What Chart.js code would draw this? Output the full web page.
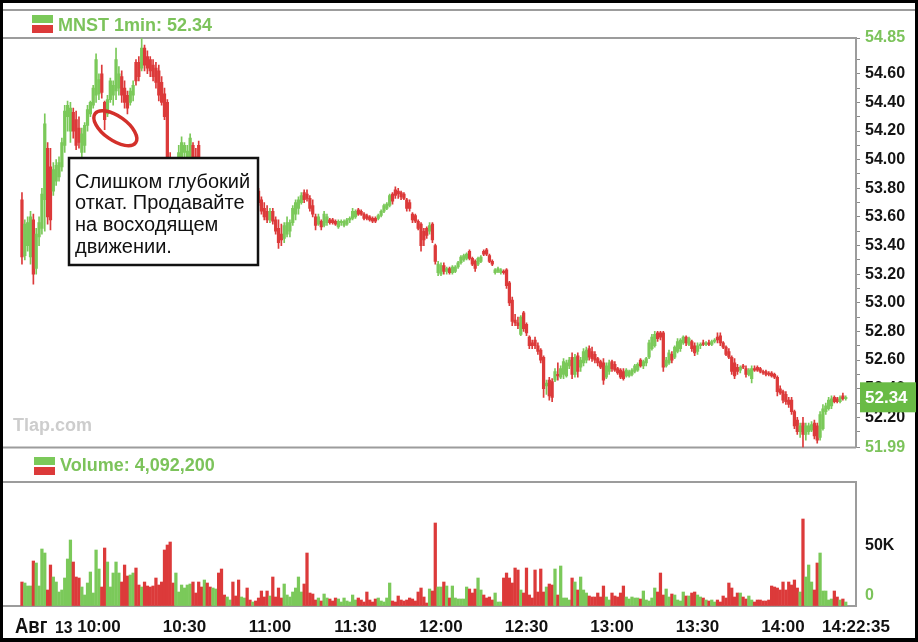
<!DOCTYPE html>
<html><head><meta charset="utf-8">
<script src="https://cdn.jsdelivr.net/npm/chart.js@4.4.1/dist/chart.umd.min.js"></script>
<style>
html,body{margin:0;padding:0;background:#000;width:918px;height:642px;overflow:hidden;}
#frame{position:absolute;left:3px;top:3px;width:912px;height:635px;background:#fff;}
canvas{position:absolute;left:0;}
#c1{top:0;} #c2{top:455px;}
</style></head><body>
<div id="frame"></div>
<canvas id="c1" width="918" height="462"></canvas>
<canvas id="c2" width="918" height="187"></canvas>
<script>
// ---------- DATA (1-minute bars, MNST, Aug 13, from 09:33) ----------
const firstBarTime = '09:33';
const symbol = 'MNST';
const interval = '1min';
const volumeTitle = 'Volume: 4,092,200';
const opens = [
53.72,53.33,53.40,53.32,53.58,53.24,53.46,53.52,53.72,54.08,
53.95,53.78,53.85,53.88,53.95,54.10,54.30,54.20,54.33,54.28,
54.22,54.05,54.10,54.24,54.32,54.38,54.45,54.46,54.60,54.40,
54.32,54.42,54.45,54.48,54.50,54.58,54.50,54.45,54.40,54.45,
54.68,54.68,54.64,54.78,54.72,54.70,54.66,54.64,54.62,54.54,
54.46,54.40,54.00,53.90,53.80,53.92,54.00,54.05,53.98,54.02,
54.10,54.02,54.10,53.96,53.88,53.92,53.86,53.80,53.84,53.88,
53.85,53.80,53.76,53.80,53.84,53.82,53.78,53.74,53.78,53.82,
53.80,53.76,53.78,53.78,53.72,53.66,53.64,53.58,53.64,53.58,
53.52,53.48,53.45,53.48,53.50,53.56,53.62,53.66,53.70,53.77,
53.76,53.73,53.68,53.60,53.55,53.57,53.54,53.56,53.58,53.58,
53.57,53.53,53.56,53.54,53.55,53.58,53.59,53.60,53.65,53.64,
53.62,53.61,53.60,53.59,53.59,53.59,53.61,53.64,53.66,53.68,
53.76,53.79,53.78,53.77,53.76,53.72,53.70,53.62,53.61,53.57,
53.55,53.50,53.52,53.50,53.55,53.40,53.21,53.20,53.26,53.22,
53.24,53.21,53.22,53.25,53.28,53.30,53.31,53.36,53.31,53.29,
53.27,53.29,53.36,53.37,53.33,53.29,53.21,53.22,53.21,53.22,
53.23,53.14,53.02,52.88,52.86,52.78,52.93,52.85,52.76,52.72,
52.74,52.70,52.67,52.62,52.42,52.46,52.45,52.46,52.50,52.48,
52.50,52.49,52.56,52.62,52.50,52.63,52.55,52.58,52.60,52.68,
52.66,52.64,52.61,52.59,52.58,52.48,52.52,52.59,52.57,52.54,
52.53,52.52,52.49,52.49,52.50,52.52,52.53,52.60,52.56,52.58,
52.62,52.68,52.70,52.79,52.79,52.79,52.56,52.58,52.64,52.62,
52.66,52.68,52.72,52.76,52.71,52.73,52.70,52.66,52.70,52.72,
52.71,52.72,52.71,52.73,52.76,52.77,52.72,52.69,52.66,52.62,
52.58,52.55,52.53,52.56,52.54,52.50,52.47,52.54,52.55,52.54,
52.52,52.52,52.51,52.51,52.50,52.48,52.40,52.38,52.36,52.32,
52.32,52.24,52.18,52.10,52.16,52.08,52.10,52.11,52.16,52.14,
52.06,52.12,52.24,52.26,52.28,52.34,52.33,52.31,52.35,52.33];
const highs = [
53.77,53.58,53.60,53.64,53.62,53.52,53.60,53.80,54.32,54.12,
54.08,53.98,54.00,54.02,54.15,54.38,54.41,54.40,54.36,54.34,
54.30,54.22,54.26,54.38,54.41,54.52,54.74,54.60,54.66,54.41,
54.45,54.57,54.55,54.78,54.65,54.62,54.55,54.48,54.50,54.55,
54.70,54.72,54.85,54.80,54.76,54.72,54.70,54.68,54.66,54.58,
54.50,54.42,54.05,53.95,53.98,54.10,54.16,54.12,54.10,54.18,
54.12,54.08,54.13,54.00,53.95,53.96,53.90,53.86,53.90,53.92,
53.88,53.84,53.82,53.86,53.88,53.85,53.82,53.80,53.84,53.86,
53.83,53.80,53.82,53.80,53.74,53.70,53.68,53.66,53.66,53.60,
53.58,53.55,53.56,53.60,53.58,53.68,53.72,53.74,53.77,53.79,
53.79,53.75,53.72,53.62,53.62,53.58,53.64,53.62,53.59,53.59,
53.58,53.58,53.58,53.58,53.59,53.60,53.66,53.65,53.66,53.65,
53.63,53.62,53.61,53.60,53.60,53.62,53.65,53.69,53.70,53.76,
53.77,53.81,53.80,53.78,53.77,53.73,53.72,53.63,53.62,53.58,
53.56,53.52,53.53,53.56,53.56,53.41,53.29,53.28,53.28,53.25,
53.25,53.26,53.26,53.29,53.33,53.34,53.35,53.37,53.32,53.30,
53.32,53.33,53.37,53.38,53.34,53.30,53.24,53.25,53.24,53.23,
53.24,53.15,53.04,52.92,52.90,52.91,52.94,52.86,52.77,52.74,
52.76,52.72,52.68,52.63,52.46,52.48,52.47,52.54,52.58,52.56,
52.61,52.60,52.62,52.65,52.64,52.65,52.62,52.68,52.69,52.70,
52.69,52.66,52.62,52.60,52.61,52.58,52.60,52.60,52.59,52.55,
52.54,52.54,52.54,52.53,52.54,52.57,52.58,52.61,52.60,52.62,
52.74,52.78,52.80,52.80,52.80,52.80,52.62,52.67,52.66,52.70,
52.75,52.75,52.77,52.77,52.76,52.74,52.72,52.72,52.72,52.74,
52.73,52.74,52.74,52.75,52.79,52.79,52.73,52.70,52.68,52.63,
52.61,52.57,52.56,52.57,52.56,52.54,52.56,52.56,52.56,52.55,
52.53,52.53,52.52,52.52,52.51,52.49,52.42,52.39,52.38,52.34,
52.34,52.25,52.20,52.16,52.20,52.16,52.16,52.17,52.18,52.16,
52.24,52.29,52.30,52.34,52.35,52.35,52.34,52.35,52.37,52.35];
const lows = [
53.27,53.30,53.36,53.27,53.13,53.20,53.40,53.48,53.50,53.55,
53.51,53.75,53.82,53.85,53.92,54.05,54.20,54.12,54.15,54.07,
54.08,54.00,54.05,54.20,54.30,54.36,54.40,54.42,54.43,54.21,
54.30,54.40,54.38,54.42,54.45,54.40,54.36,54.32,54.38,54.41,
54.52,54.55,54.62,54.62,54.60,54.58,54.55,54.50,54.41,54.38,
54.28,53.95,53.80,53.75,53.78,53.90,53.95,53.96,53.95,53.98,
53.94,53.90,53.92,53.86,53.84,53.85,53.78,53.76,53.82,53.83,
53.78,53.74,53.74,53.78,53.80,53.76,53.72,53.72,53.76,53.78,
53.74,53.72,53.74,53.68,53.62,53.58,53.56,53.56,53.55,53.48,
53.38,53.40,53.42,53.46,53.46,53.54,53.58,53.62,53.69,53.70,
53.71,53.64,53.60,53.51,53.54,53.51,53.53,53.54,53.55,53.55,
53.54,53.52,53.54,53.53,53.54,53.56,53.58,53.59,53.61,53.61,
53.58,53.58,53.57,53.56,53.56,53.58,53.60,53.63,53.65,53.67,
53.69,53.73,53.73,53.72,53.72,53.64,53.64,53.56,53.56,53.51,
53.36,53.40,53.45,53.48,53.42,53.27,53.19,53.19,53.20,53.20,
53.20,53.20,53.21,53.24,53.27,53.29,53.30,53.30,53.26,53.22,
53.26,53.28,53.33,53.33,53.28,53.26,53.20,53.21,53.20,53.20,
53.10,52.98,52.84,52.84,52.82,52.77,52.80,52.77,52.68,52.68,
52.68,52.64,52.58,52.34,52.36,52.32,52.31,52.45,52.46,52.47,
52.47,52.48,52.54,52.47,52.48,52.48,52.52,52.56,52.58,52.60,
52.59,52.58,52.56,52.54,52.43,52.47,52.50,52.52,52.52,52.50,
52.47,52.46,52.48,52.48,52.49,52.51,52.52,52.55,52.54,52.56,
52.61,52.67,52.69,52.73,52.74,52.52,52.55,52.57,52.58,52.61,
52.65,52.66,52.71,52.70,52.70,52.66,52.63,52.64,52.68,52.70,
52.70,52.70,52.70,52.72,52.72,52.70,52.68,52.63,52.61,52.50,
52.47,52.50,52.51,52.54,52.48,52.49,52.44,52.52,52.52,52.51,
52.50,52.49,52.49,52.48,52.47,52.35,52.36,52.30,52.29,52.27,
52.22,52.12,52.08,52.06,51.99,52.04,52.08,52.10,52.05,52.02,
52.04,52.11,52.22,52.25,52.26,52.30,52.30,52.30,52.32,52.32];
const closes = [
53.32,53.55,53.56,53.60,53.20,53.48,53.56,53.76,54.25,53.60,
53.58,53.93,53.96,53.98,54.12,54.34,54.38,54.36,54.20,54.10,
54.12,54.18,54.24,54.35,54.40,54.50,54.70,54.56,54.47,54.28,
54.42,54.55,54.52,54.70,54.60,54.45,54.40,54.36,54.48,54.52,
54.55,54.58,54.78,54.66,54.64,54.62,54.58,54.54,54.45,54.40,
54.30,54.00,53.86,53.80,53.94,54.05,54.12,54.10,54.06,54.15,
53.98,53.94,53.96,53.88,53.92,53.86,53.80,53.84,53.88,53.85,
53.80,53.76,53.80,53.84,53.82,53.78,53.74,53.78,53.82,53.80,
53.76,53.78,53.76,53.70,53.64,53.60,53.58,53.64,53.57,53.50,
53.42,53.44,53.54,53.56,53.56,53.66,53.70,53.72,53.75,53.72,
53.73,53.66,53.62,53.54,53.60,53.53,53.62,53.60,53.56,53.56,
53.55,53.57,53.57,53.57,53.58,53.59,53.64,53.64,53.62,53.62,
53.59,53.59,53.58,53.57,53.57,53.61,53.64,53.68,53.69,53.75,
53.71,53.75,53.76,53.74,53.73,53.66,53.66,53.58,53.57,53.52,
53.40,53.44,53.47,53.54,53.44,53.29,53.27,53.26,53.22,53.24,
53.21,53.25,53.25,53.28,53.32,53.33,53.34,53.31,53.27,53.24,
53.31,53.32,53.34,53.34,53.29,53.27,53.23,53.24,53.23,53.21,
53.12,53.00,52.87,52.86,52.84,52.90,52.82,52.79,52.70,52.70,
52.70,52.66,52.60,52.40,52.44,52.35,52.34,52.52,52.49,52.54,
52.59,52.58,52.60,52.50,52.62,52.52,52.60,52.66,52.67,52.62,
52.61,52.60,52.58,52.55,52.46,52.56,52.58,52.54,52.53,52.51,
52.48,52.47,52.53,52.52,52.53,52.56,52.57,52.56,52.59,52.61,
52.72,52.76,52.78,52.75,52.76,52.55,52.60,52.65,52.60,52.69,
52.73,52.74,52.76,52.72,52.75,52.68,52.65,52.70,52.71,52.71,
52.72,52.71,52.73,52.74,52.74,52.72,52.69,52.64,52.62,52.52,
52.49,52.52,52.55,52.55,52.50,52.53,52.54,52.53,52.53,52.52,
52.51,52.50,52.50,52.49,52.48,52.38,52.37,52.32,52.31,52.29,
52.24,52.14,52.10,52.14,52.08,52.14,52.14,52.15,52.07,52.04,
52.22,52.26,52.28,52.32,52.33,52.31,52.31,52.34,52.33,52.34];
// volume per minute, in thousands of shares
const volumeThousands = [
24,23,20,20,45,43,20,57,53,16,
41,29,24,14,16,28,47,66,44,29,
28,19,11,23,34,13,56,37,19,58,
44,19,33,44,33,24,41,30,31,33,
38,21,19,24,20,19,20,28,21,24,
56,61,64,23,33,14,21,18,21,22,
24,13,24,19,26,23,19,18,17,33,
37,11,9,6,24,10,26,9,8,18,
6,4,5,8,15,9,15,10,29,9,
18,8,22,11,9,14,18,29,14,22,
53,13,12,6,8,5,12,8,7,5,
8,7,4,8,5,4,11,6,8,6,
4,14,6,4,7,8,5,4,8,23,
5,4,10,6,5,6,8,7,5,14,
18,9,3,17,15,83,19,19,24,20,
8,20,8,7,7,7,19,17,13,17,
28,16,11,8,9,6,13,4,4,28,
33,28,23,38,36,16,13,38,11,8,
36,14,37,14,19,22,21,37,11,40,
8,8,6,28,24,16,29,16,13,10,
9,9,13,9,20,9,6,13,10,9,
13,20,9,7,9,8,8,7,15,6,
5,8,18,14,33,11,17,9,12,11,
6,5,14,10,10,13,14,11,9,8,
6,5,6,4,6,4,10,8,23,18,
9,13,13,9,7,10,6,4,6,6,
5,5,6,20,19,18,16,24,16,24,
21,26,18,14,87,29,41,24,16,43,
53,15,15,6,7,15,9,6,7,4];
const priceTickLabels = [51.99,52.20,52.40,52.60,52.80,53.00,53.20,53.40,53.60,53.80,54.00,54.20,54.40,54.60,54.85];
const priceMinorTicks = [52.10,52.30,52.50,52.70,52.90,53.10,53.30,53.50,53.70,53.90,54.10,54.30,54.50,54.70];
const rangeLabels = [51.99, 54.85];      // day low / high shown in green
const timeTickLabels = ['10:00','10:30','11:00','11:30','12:00','12:30','13:00','13:30','14:00'];
const endTimeLabel = '14:22:35';
const dateLabel = ['Авг', '13'];
const volumeTickValues = [0, 50];
const volumeTickLabels = ['0', '50K'];
const noteLines = ['Слишком глубокий', 'откат. Продавайте', 'на восходящем', 'движении.'];
const circledBarTime = '10:04';
const circledPrice = 54.22;
const watermark = 'Tlap.com';

// ---------- STYLE ----------
const GREEN = '#7bc95a', RED = '#dc3a3a', TITLE_GREEN = '#7cc35b', BOX_GREEN = '#69bb45';
const LINE_GRAY = '#9c9c9c';
const SANS = '"Liberation Sans", Arial, Helvetica, sans-serif';
const X_MIN = 568.1, X_MAX = 865.6;

const toMin = s => { const p = s.split(':').map(Number); return p[0]*60 + p[1] + (p[2]||0)/60; };
const startMin = toMin(firstBarTime);
const minutes = opens.map((_, i) => startMin + i);
const barColors = closes.map((c, i) => c >= opens[i] ? GREEN : RED);
const lastClose = closes[closes.length - 1];

function hline(ctx, x1, x2, y) { ctx.beginPath(); ctx.moveTo(x1, y); ctx.lineTo(x2, y); ctx.stroke(); }
function legendIcon(ctx, x, y) {
  ctx.fillStyle = GREEN; ctx.fillRect(x, y, 21, 8);
  ctx.fillStyle = RED; ctx.fillRect(x, y + 10, 21, 8);
}

const pricePanel = {
  id: 'pricePanel',
  beforeDraw(chart) {
    const {ctx, chartArea: a} = chart;
    ctx.save();
    ctx.strokeStyle = LINE_GRAY; ctx.lineWidth = 2;
    hline(ctx, 3, 915, 10);
    hline(ctx, 3, a.right, a.top);
    hline(ctx, 3, a.right, a.bottom);
    legendIcon(ctx, 32, 15);
    ctx.textBaseline = 'middle'; ctx.textAlign = 'left';
    ctx.fillStyle = TITLE_GREEN; ctx.font = 'bold 18px ' + SANS;
    ctx.fillText(symbol + ' ' + interval + ': ' + lastClose.toFixed(2), 58, 26);
    ctx.fillStyle = '#cdcdcd'; ctx.font = 'bold 18px ' + SANS;
    ctx.fillText(watermark, 13, 426);
    ctx.restore();
  },
  afterDatasetsDraw(chart) {
    const {ctx} = chart;
    const xs = chart.scales.x, ys = chart.scales.y;
    ctx.save();
    // note box
    ctx.fillStyle = '#fff'; ctx.fillRect(69, 158, 189, 107);
    ctx.strokeStyle = '#111'; ctx.lineWidth = 2.5; ctx.strokeRect(69, 158, 189, 107);
    ctx.fillStyle = '#111'; ctx.font = '20px ' + SANS; ctx.textBaseline = 'middle'; ctx.textAlign = 'left';
    noteLines.forEach((t, k) => ctx.fillText(t, 75, 182 + k * 21.7));
    // red ellipse around the pull-back bar
    const cx = xs.getPixelForValue(toMin(circledBarTime)) + 5, cy = ys.getPixelForValue(circledPrice);
    ctx.strokeStyle = '#d3302b'; ctx.lineWidth = 3.5;
    ctx.beginPath(); ctx.ellipse(cx, cy, 25, 12, 0.62, 0, Math.PI * 2); ctx.stroke();
    ctx.restore();
  },
  afterDraw(chart) {
    const {ctx} = chart;
    const y = chart.scales.y.getPixelForValue(lastClose);
    ctx.save();
    ctx.fillStyle = BOX_GREEN; ctx.fillRect(860, y - 15, 56, 30);
    ctx.fillStyle = '#fff'; ctx.font = 'bold 17px ' + SANS; ctx.textBaseline = 'middle'; ctx.textAlign = 'left';
    ctx.fillText(lastClose.toFixed(2), 865, y + 1);
    ctx.restore();
  }
};

const volumePanel = {
  id: 'volumePanel',
  beforeDraw(chart) {
    const {ctx, chartArea: a} = chart;
    ctx.save();
    ctx.strokeStyle = LINE_GRAY; ctx.lineWidth = 2;
    hline(ctx, 3, a.right, a.top);
    hline(ctx, 3, a.right, a.bottom);
    legendIcon(ctx, 34, 2);
    ctx.textBaseline = 'middle'; ctx.textAlign = 'left';
    ctx.fillStyle = TITLE_GREEN; ctx.font = 'bold 18px ' + SANS;
    ctx.fillText(volumeTitle, 60, 11);
    ctx.restore();
  },
  afterDraw(chart) {
    const {ctx, chartArea: a} = chart;
    ctx.save();
    ctx.fillStyle = '#111'; ctx.textBaseline = 'middle'; ctx.textAlign = 'left';
    // condensed heavy month label
    ctx.save();
    ctx.translate(15, a.bottom + 21);
    ctx.scale(0.84, 1);
    ctx.font = 'bold 22px ' + SANS; ctx.fillText(dateLabel[0], 0, 0);
    ctx.restore();
    ctx.save();
    ctx.translate(55, a.bottom + 22);
    ctx.scale(0.92, 1);
    ctx.font = 'bold 17px ' + SANS; ctx.fillText(dateLabel[1], 0, 0);
    ctx.restore();
    ctx.restore();
  }
};

const common = { responsive: false, animation: false, events: [],
  plugins: { legend: { display: false }, tooltip: { enabled: false } } };

new Chart(document.getElementById('c1'), {
  type: 'bar',
  data: { datasets: [
    { data: minutes.map((t, i) => ({ x: t, y: [lows[i], highs[i]] })), backgroundColor: barColors,
      barThickness: 1, grouped: false, minBarLength: 1 },
    { data: minutes.map((t, i) => ({ x: t, y: [Math.min(opens[i], closes[i]), Math.max(opens[i], closes[i])] })),
      backgroundColor: barColors, barThickness: 2.6, grouped: false, minBarLength: 1 }
  ]},
  options: Object.assign({}, common, {
    layout: { padding: { left: 8, top: 38, right: 3, bottom: 11 } },
    scales: {
      x: { type: 'linear', min: X_MIN, max: X_MAX, display: false, offset: false },
      y: { position: 'right', min: 51.99, max: 54.85,
        afterFit(s) { s.width = 59; },
        afterBuildTicks(s) { s.ticks = priceTickLabels.concat(priceMinorTicks).sort((a, b) => a - b).map(v => ({ value: v })); },
        ticks: { autoSkip: false, padding: 5,
          callback: v => priceTickLabels.includes(v) ? v.toFixed(2) : '',
          color: c => rangeLabels.includes(c.tick && c.tick.value) ? TITLE_GREEN : '#141414',
          font: { family: SANS, size: 16, weight: 'bold' } },
        grid: { drawOnChartArea: false, drawTicks: true, tickLength: 4, color: '#8a8a8a' },
        border: { display: true, color: LINE_GRAY, width: 2 } }
    }
  }),
  plugins: [pricePanel]
});

new Chart(document.getElementById('c2'), {
  type: 'bar',
  data: { datasets: [
    { data: minutes.map((t, i) => ({ x: t, y: volumeThousands[i] })), backgroundColor: barColors,
      barThickness: 2.6, grouped: false }
  ]},
  options: Object.assign({}, common, {
    layout: { padding: { left: 8, top: 27, right: 3, bottom: 6 } },
    scales: {
      x: { type: 'linear', min: X_MIN, max: X_MAX, offset: false,
        afterFit(s) { s.height = 30; },
        afterBuildTicks(s) { s.ticks = timeTickLabels.map(l => ({ value: toMin(l) })).concat([{ value: s.max }]); },
        ticks: { autoSkip: false, maxRotation: 0, minRotation: 0, padding: 11, color: '#111',
          callback: (v, i) => i < timeTickLabels.length ? timeTickLabels[i] : endTimeLabel,
          font: { family: SANS, size: 17, weight: 'bold' } },
        grid: { display: false, drawTicks: false },
        border: { display: false } },
      y: { position: 'right', min: 0, max: 124,
        afterFit(s) { s.width = 59; },
        afterBuildTicks(s) { s.ticks = volumeTickValues.map(v => ({ value: v })); },
        ticks: { autoSkip: false, padding: 9, labelOffset: -10,
          callback: (v, i) => volumeTickLabels[i],
          color: c => (c.tick && c.tick.value === 0) ? TITLE_GREEN : '#141414',
          font: { family: SANS, size: 16, weight: 'bold' } },
        grid: { drawOnChartArea: false, drawTicks: false },
        border: { display: true, color: LINE_GRAY, width: 2 } }
    }
  }),
  plugins: [volumePanel]
});
</script>
</body></html>
